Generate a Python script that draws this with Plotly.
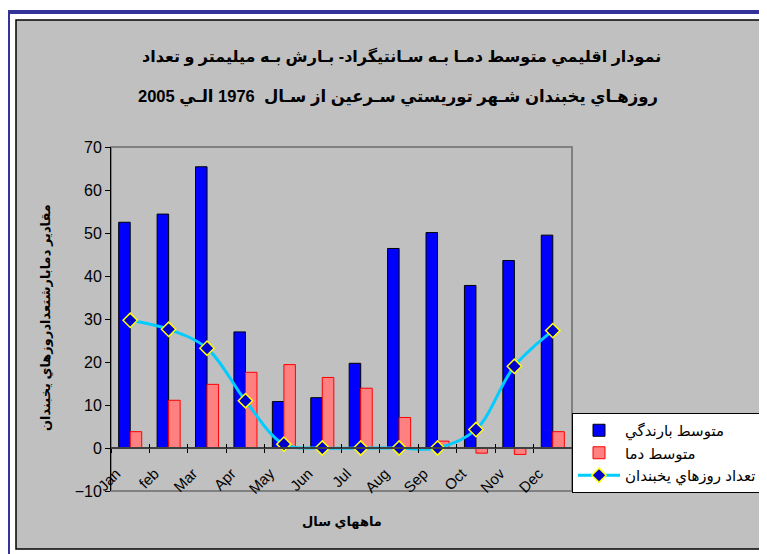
import plotly.graph_objects as go

months = ["Jan", "feb", "Mar", "Apr", "May", "Jun", "Jul", "Aug", "Sep", "Oct", "Nov", "Dec"]
precip = [52.5, 54.4, 65.4, 27.0, 10.8, 11.7, 19.7, 46.4, 50.1, 37.8, 43.6, 49.5]
temp = [3.8, 11.1, 14.8, 17.6, 19.4, 16.4, 13.9, 7.1, 1.6, -1.2, -1.5, 3.8]
frost = [29.7, 27.6, 23.2, 11.0, 0.9, 0, 0, 0, 0, 4.3, 19.0, 27.3]
y_ticks = [-10, 0, 10, 20, 30, 40, 50, 60, 70]

name_precip = "متوسط بارندگي"
name_temp = "متوسط دما"
name_frost = "تعداد روزهاي يخبندان"
title_1 = "نمودار اقليمي متوسط دمـا بـه سـانتيگراد- بـارش بـه ميليمتر و تعداد"
title_2 = "روزهـاي يخبندان شـهر توريستي سـرعين از سـال  1976 الـي 2005"
y_title = "مقادير دمابارشتعدادروزهاي يخبندان"
x_title = "ماههاي سال"

FONT = "Liberation Sans, Arial, DejaVu Sans, sans-serif"

OFF = 8  # page offset of the figure inside the browser window
W, H = 767 - OFF, 554 - OFF
# plot area in screenshot pixels
SL, SR, ST, SB = 111, 572, 147, 491
L, R, T, B = SL - OFF, SR - OFF, ST - OFF, SB - OFF


def px(xs):
    return (xs - SL) / (SR - SL)


def py(ys):
    return (SB - ys) / (SB - ST)


fig = go.Figure()
fig.add_trace(go.Bar(x=months, y=precip, name=name_precip, legendgroup="a",
                     marker=dict(color="#0000FF", line=dict(color="#000000", width=1))))
fig.add_trace(go.Bar(x=months, y=temp, name=name_temp, legendgroup="b",
                     marker=dict(color="#FF8080", line=dict(color="#FF0000", width=1))))
fig.add_trace(go.Scatter(x=months, y=frost, name=name_frost, legendgroup="c",
                         mode="lines+markers",
                         line=dict(color="#00CCFF", width=3, shape="spline"),
                         marker=dict(symbol="diamond", size=11, color="#0000CC",
                                     line=dict(color="#FFFF00", width=1.5))))
# helper trace for the inner half of the crossing tick marks
fig.add_trace(go.Scatter(x=months, y=[None] * len(months), xaxis="x2", showlegend=False,
                         hoverinfo="skip"))

zero_pos = (0 - y_ticks[0]) / (y_ticks[-1] - y_ticks[0])
x_range = [-0.5, len(months) - 0.5]

shapes = [
    # outer blue frame
    dict(type="rect", xref="paper", yref="paper", x0=px(8), x1=px(840), y0=py(620), y1=py(12),
         line=dict(color="#333399", width=4), fillcolor="rgba(0,0,0,0)", layer="below"),
    # gray chart area
    dict(type="rect", xref="paper", yref="paper", x0=px(16), x1=px(840), y0=py(549), y1=py(20),
         line=dict(color="#000000", width=1.5), fillcolor="#C0C0C0", layer="below"),
    # plot area border
    dict(type="rect", xref="x domain", yref="y domain", x0=0, x1=1, y0=0, y1=1,
         line=dict(color="#808080", width=2), fillcolor="rgba(0,0,0,0)", layer="below"),
]

annotations = [
    dict(text=title_1, xref="paper", yref="paper", x=px(401), y=py(57), showarrow=False,
         xanchor="center", yanchor="middle", font=dict(family=FONT, size=16, color="#000000", weight="bold")),
    dict(text=title_2, xref="paper", yref="paper", x=px(398), y=py(97), showarrow=False,
         xanchor="center", yanchor="middle", font=dict(family=FONT, size=16.5, color="#000000", weight="bold")),
    dict(text=y_title, xref="paper", yref="paper", x=px(45), y=py(318), showarrow=False,
         textangle=-90, xanchor="center", yanchor="middle",
         font=dict(family=FONT, size=13, color="#000000", weight="bold")),
    dict(text=x_title, xref="paper", yref="paper", x=px(342), y=py(521), showarrow=False,
         xanchor="center", yanchor="middle", font=dict(family=FONT, size=13, color="#000000", weight="bold")),
]

fig.update_layout(
    width=W, height=H,
    margin=dict(l=L, r=W - R, t=T, b=H - B, autoexpand=False),
    paper_bgcolor="#FFFFFF",
    plot_bgcolor="#FFFFFF",
    barmode="group",
    bargap=0.4,
    bargroupgap=0,
    font=dict(family=FONT, size=15, color="#000000"),
    showlegend=True,
    legend=dict(x=px(572), y=py(413), xanchor="left", yanchor="top",
                bgcolor="#FFFFFF", bordercolor="#000000", borderwidth=1,
                font=dict(family=FONT, size=15, color="#000000"),
                tracegroupgap=7, itemwidth=42, traceorder="normal"),
    xaxis=dict(type="category", range=x_range, anchor="free", position=zero_pos, showline=True,
               linecolor="#404040", linewidth=2, ticks="outside", ticklen=4, tickcolor="#000000",
               tickson="boundaries", tickangle=-45, ticklabelstandoff=10, ticklabelshift=-14,
               tickfont=dict(family=FONT, size=15), showgrid=False, zeroline=False,
               automargin=False, fixedrange=True),
    xaxis2=dict(type="category", overlaying="x", anchor="free", position=zero_pos, matches="x",
                showline=False, ticks="inside", ticklen=4, tickcolor="#000000", tickson="boundaries",
                showticklabels=False, showgrid=False, zeroline=False, automargin=False),
    yaxis=dict(range=[y_ticks[0], y_ticks[-1]], tickvals=y_ticks, showline=True, linecolor="#000000",
               linewidth=1, ticks="outside", ticklen=5, tickcolor="#000000", showgrid=False,
               zeroline=False, tickfont=dict(family=FONT, size=16), automargin=False),
    shapes=shapes,
    annotations=annotations,
)

fig.write_html("out.html")
